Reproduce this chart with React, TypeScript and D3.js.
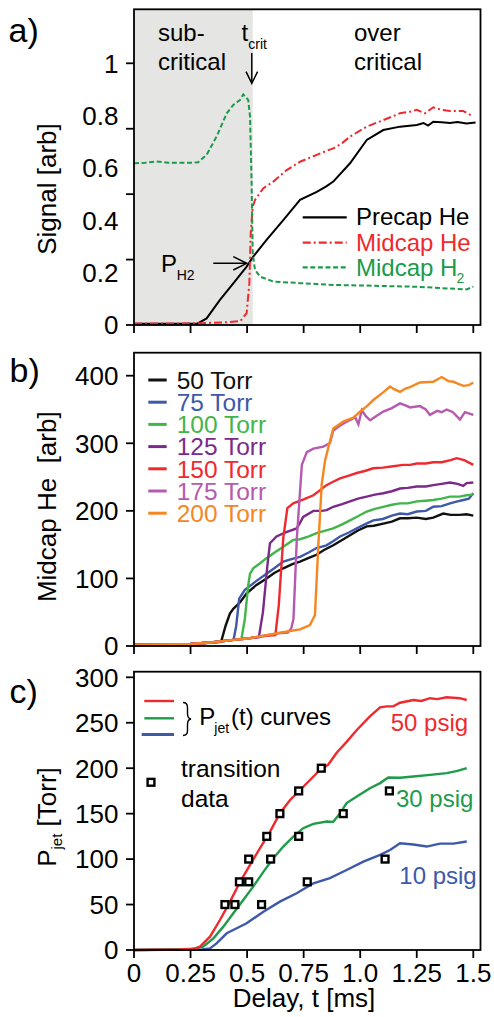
import React from "react";
import * as d3 from "d3";

const FONT = "'Liberation Sans', Arial, Helvetica, sans-serif";

// ---------- Panel a data (t [ms], signal [arb]) ----------
const precapHe: [number, number][] = [
  [0, 0.005], [0.28, 0.005], [0.321, 0.025], [0.38, 0.096], [0.439, 0.159], [0.498, 0.223],
  [0.527, 0.261], [0.586, 0.325], [0.66, 0.401], [0.734, 0.478], [0.808, 0.509], [0.85, 0.53],
  [0.881, 0.548], [0.955, 0.618], [1.029, 0.707], [1.102, 0.745], [1.176, 0.758], [1.25, 0.764],
  [1.28, 0.772], [1.3, 0.762], [1.323, 0.777], [1.36, 0.775], [1.397, 0.772], [1.43, 0.776],
  [1.47, 0.77], [1.51, 0.774],
];
const midcapHe: [number, number][] = [
  [0, 0.006], [0.2, 0.006], [0.3, 0.007], [0.4, 0.01], [0.47, 0.015], [0.498, 0.045], [0.51, 0.16],
  [0.516, 0.35], [0.525, 0.452], [0.535, 0.478], [0.571, 0.522], [0.616, 0.548], [0.675, 0.592],
  [0.734, 0.624], [0.808, 0.65], [0.85, 0.665], [0.881, 0.675], [0.92, 0.695], [0.955, 0.72],
  [1.029, 0.758], [1.102, 0.783], [1.176, 0.809], [1.22, 0.815], [1.25, 0.822], [1.286, 0.809],
  [1.323, 0.832], [1.36, 0.822], [1.397, 0.818], [1.455, 0.818], [1.5, 0.796],
];
const midcapH2: [number, number][] = [
  [0, 0.618], [0.05, 0.62], [0.1, 0.625], [0.15, 0.62], [0.2, 0.62], [0.25, 0.62], [0.284, 0.622],
  [0.321, 0.65], [0.365, 0.72], [0.41, 0.809], [0.439, 0.841], [0.469, 0.86], [0.483, 0.881],
  [0.505, 0.86], [0.513, 0.796], [0.52, 0.541], [0.525, 0.274], [0.535, 0.21], [0.557, 0.185],
  [0.616, 0.166], [0.734, 0.16], [0.881, 0.153], [1.058, 0.15], [1.25, 0.146], [1.47, 0.136], [1.5, 0.146],
];
const aYLabelValues = [0, 0.2, 0.4, 0.6, 0.8, 1];
const aYLabelText = ["0", "0.2", "0.4", "0.6", "0.8", "1"];
const aYTickValues = [0, 0.25, 0.5, 0.75, 1];
const tCrit = 0.525;

// ---------- Panel b data (t [ms], Midcap He [arb]) ----------
const torrLabels = ["50 Torr", "75 Torr", "100 Torr", "125 Torr", "150 Torr", "175 Torr", "200 Torr"];
const torrColors = ["#111111", "#3d59a7", "#42b54b", "#7b2a89", "#ee2a2e", "#b55aae", "#f6861f"];
const torr50: [number, number][] = [
  [0, 1.5], [0.15, 2], [0.25, 3], [0.3, 4], [0.35, 5], [0.385, 6], [0.405, 30], [0.424, 48], [0.439, 55],
  [0.47, 65], [0.498, 78], [0.54, 90], [0.586, 100], [0.62, 108], [0.66, 115], [0.7, 121], [0.734, 125],
  [0.77, 130], [0.807, 135], [0.84, 142], [0.881, 149], [0.92, 157], [0.955, 164], [0.99, 171],
  [1.029, 177], [1.06, 178], [1.102, 181], [1.14, 184], [1.176, 189], [1.21, 189], [1.25, 190],
  [1.29, 188], [1.323, 190], [1.367, 196], [1.4, 194], [1.44, 194], [1.47, 195], [1.5, 193],
];
const torr75: [number, number][] = [
  [0, 1.5], [0.25, 3], [0.35, 5.5], [0.44, 9], [0.452, 30], [0.465, 70], [0.49, 83], [0.54, 96],
  [0.586, 107], [0.62, 115], [0.66, 125], [0.7, 129], [0.734, 132], [0.77, 138], [0.807, 145],
  [0.851, 149], [0.88, 155], [0.911, 162], [0.95, 168], [0.985, 174], [1.02, 180], [1.058, 186],
  [1.1, 188], [1.14, 193], [1.176, 196], [1.21, 195], [1.25, 199], [1.29, 200], [1.323, 206],
  [1.36, 207], [1.397, 211], [1.43, 214], [1.456, 216], [1.48, 218], [1.5, 226],
];
const torr100: [number, number][] = [
  [0, 1.5], [0.25, 3], [0.35, 5.5], [0.44, 9], [0.475, 10.5], [0.49, 40], [0.505, 90], [0.513, 107],
  [0.527, 115], [0.556, 122], [0.586, 130], [0.62, 138], [0.66, 147], [0.704, 157], [0.734, 158],
  [0.77, 162], [0.807, 167], [0.85, 171], [0.881, 174], [0.92, 180], [0.955, 186], [0.99, 192],
  [1.029, 199], [1.065, 203], [1.102, 206], [1.14, 209], [1.176, 211], [1.21, 211], [1.25, 214],
  [1.29, 215], [1.323, 216], [1.36, 218], [1.397, 221], [1.44, 221], [1.47, 223], [1.5, 224],
];
const torr125: [number, number][] = [
  [0, 1.5], [0.25, 3], [0.35, 5.5], [0.44, 9], [0.5, 11], [0.552, 13], [0.57, 50], [0.59, 120],
  [0.601, 152], [0.63, 162], [0.67, 168], [0.719, 174], [0.735, 183], [0.748, 191], [0.793, 200],
  [0.83, 200], [0.851, 201], [0.881, 206], [0.92, 210], [0.955, 214], [0.99, 218], [1.029, 221],
  [1.065, 224], [1.102, 226], [1.14, 229], [1.176, 233], [1.21, 234], [1.25, 236], [1.29, 236],
  [1.323, 238], [1.36, 240], [1.397, 242], [1.43, 240], [1.456, 237], [1.47, 241], [1.5, 242],
];
const torr150: [number, number][] = [
  [0, 1.5], [0.25, 3], [0.35, 5.5], [0.44, 9], [0.5, 11], [0.586, 15], [0.625, 16], [0.64, 60],
  [0.66, 160], [0.678, 204], [0.704, 211], [0.75, 217], [0.793, 223], [0.82, 230], [0.851, 238],
  [0.88, 243], [0.911, 248], [0.95, 252], [0.985, 256], [1.02, 259], [1.058, 263], [1.1, 264],
  [1.146, 266], [1.19, 268], [1.22, 268], [1.25, 270], [1.29, 270], [1.323, 272], [1.36, 272],
  [1.4, 275], [1.426, 278], [1.46, 275], [1.5, 268],
];
const torr175: [number, number][] = [
  [0, 1.5], [0.25, 3], [0.35, 5.5], [0.44, 9], [0.5, 11], [0.586, 16], [0.65, 19], [0.68, 20],
  [0.695, 26], [0.705, 40], [0.72, 160], [0.742, 268], [0.764, 287], [0.793, 292], [0.837, 295],
  [0.866, 300], [0.881, 319], [0.91, 326], [0.94, 332], [0.965, 336], [0.977, 339], [0.992, 328],
  [1.007, 349], [1.025, 340], [1.044, 334], [1.07, 340], [1.102, 347], [1.14, 352], [1.176, 359],
  [1.2, 356], [1.22, 353], [1.264, 355], [1.29, 350], [1.308, 342], [1.34, 348], [1.36, 346],
  [1.382, 350], [1.41, 346], [1.441, 335], [1.463, 346], [1.5, 342],
];
const torr200: [number, number][] = [
  [0, 1.5], [0.25, 3], [0.35, 5.5], [0.44, 9], [0.5, 11], [0.586, 16], [0.65, 20], [0.734, 24.6],
  [0.778, 31], [0.8, 46], [0.815, 150], [0.83, 240], [0.845, 275], [0.86, 295], [0.881, 322],
  [0.925, 332], [0.97, 338], [1.0, 347], [1.03, 355], [1.058, 364], [1.1, 375], [1.132, 384],
  [1.15, 380], [1.176, 376], [1.2, 381], [1.22, 383], [1.264, 390], [1.323, 391], [1.36, 398],
  [1.39, 392], [1.412, 391], [1.44, 387], [1.456, 385], [1.48, 386], [1.5, 390],
];
const torrSeries = [torr50, torr75, torr100, torr125, torr150, torr175, torr200];
const bYTickValues = [0, 100, 200, 300, 400];

// ---------- Panel c data (t [ms], P_jet [Torr]) ----------
const psig50: [number, number][] = [
  [0, 0], [0.2, 0.5], [0.27, 1.5], [0.292, 3.7], [0.336, 14.7], [0.38, 33], [0.424, 53], [0.469, 75],
  [0.513, 93.6], [0.557, 112], [0.601, 130], [0.645, 150.5], [0.69, 165], [0.734, 176], [0.778, 187],
  [0.822, 198], [0.859, 204], [0.896, 217], [0.94, 229], [0.985, 242], [1.043, 257], [1.088, 267],
  [1.117, 268], [1.146, 268], [1.176, 272], [1.235, 275], [1.27, 274], [1.309, 277], [1.34, 276],
  [1.382, 278], [1.44, 277], [1.471, 275],
];
const psig30: [number, number][] = [
  [0, 0], [0.25, 0.8], [0.306, 3.7], [0.351, 12.8], [0.395, 25.7], [0.439, 40.4], [0.483, 55],
  [0.527, 69.7], [0.572, 86], [0.616, 101], [0.66, 113.8], [0.704, 124.8], [0.748, 134], [0.793, 138.8],
  [0.852, 141.3], [0.881, 141], [0.911, 150.5], [0.94, 161.6], [0.985, 168.8], [1.043, 178],
  [1.088, 183.6], [1.124, 189.8], [1.176, 189.5], [1.235, 190.9], [1.309, 192.7], [1.382, 194.6],
  [1.43, 197], [1.471, 200],
];
const psig10: [number, number][] = [
  [0, 0], [0.3, 0.5], [0.336, 1.8], [0.365, 7.3], [0.41, 18.4], [0.454, 23.9], [0.498, 29.4],
  [0.572, 42.2], [0.645, 53.2], [0.719, 62.4], [0.793, 73.4], [0.866, 79], [0.94, 88], [1.014, 97.2],
  [1.088, 104.6], [1.132, 110], [1.176, 117.5], [1.235, 116], [1.294, 113.8], [1.353, 117],
  [1.412, 117], [1.471, 119.3],
];
const transitionT = [0.402, 0.446, 0.564, 0.466, 0.507, 0.766, 0.507, 0.604, 1.11, 0.587, 0.728, 0.645, 0.925, 0.728, 1.129, 0.828];
const transitionP = [50, 50, 50, 75, 75, 75, 100, 100, 100, 125, 125, 150, 150, 175, 175, 200];
const cYTickValues = [0, 50, 100, 150, 200, 250, 300];
const xTickValues = [0, 0.25, 0.5, 0.75, 1, 1.25, 1.5];
const xTickLabels = ["0", "0.25", "0.5", "0.75", "1.0", "1.25", "1.5"];

const RED = "#ee2a2e";
const GREEN_A = "#1b9a4a";
const GREEN_C = "#1f9b4b";
const BLUE_C = "#3d59a7";

export default function App() {
  const W = 494, H = 1017;
  const left = 134, right = 480.5;
  const x = d3.scaleLinear().domain([0, 1.5]).range([134, 473.3]);

  // panel a
  const aTop = 9.3, aBot = 325;
  const yA = d3.scaleLinear().domain([0, 1]).range([aBot, 63.3]);
  // panel b
  const bTop = 352.7, bBot = 646;
  const yB = d3.scaleLinear().domain([0, 400]).range([bBot, 375.7]);
  // panel c
  const cTop = 671.7, cBot = 950;
  const yC = d3.scaleLinear().domain([0, 300]).range([cBot, 677.3]);

  const lineA = d3.line<[number, number]>().x(d => x(d[0])).y(d => yA(d[1]));
  const lineB = d3.line<[number, number]>().x(d => x(d[0])).y(d => yB(d[1]));
  const lineC = d3.line<[number, number]>().x(d => x(d[0])).y(d => yC(d[1]));

  const tickFont = 26;
  const frame = (top: number, bot: number) => (
    <rect x={left} y={top} width={right - left} height={bot - top} fill="none" stroke="#000" strokeWidth={1.8} />
  );
  const xTicks = (bot: number) =>
    xTickValues.map((v, i) => (
      <line key={"xt" + i} x1={x(v)} x2={x(v)} y1={bot} y2={bot + 8} stroke="#000" strokeWidth={1.8} />
    ));
  const yTicks = (vals: number[], s: (v: number) => number, keyp: string) =>
    vals.map((v, i) => (
      <line key={keyp + i} x1={left - 8} x2={left} y1={s(v)} y2={s(v)} stroke="#000" strokeWidth={1.8} />
    ));
  const yLabels = (vals: number[], texts: string[], s: (v: number) => number, keyp: string) =>
    vals.map((v, i) => (
      <text key={keyp + i} x={118.5} y={s(v) + 9.3} textAnchor="end" fontSize={tickFont}>
        {texts[i]}
      </text>
    ));

  const sq = 6.8;

  return (
    <svg width={W} height={H} style={{ position: "absolute", left: 0, top: 0, background: "#fff" }} fontFamily={FONT}>
      <rect x={0} y={0} width={W} height={H} fill="#fff" />

      {/* ================= Panel a ================= */}
      <rect x={left} y={aTop} width={x(tCrit) - left} height={aBot - aTop} fill="#e5e5e3" />
      <path d={lineA(precapHe) || ""} fill="none" stroke="#000" strokeWidth={2} />
      <path d={lineA(midcapHe) || ""} fill="none" stroke={RED} strokeWidth={2} strokeDasharray="8,3,2,3" />
      <path d={lineA(midcapH2) || ""} fill="none" stroke={GREEN_A} strokeWidth={2} strokeDasharray="5,2.6" />
      {frame(aTop, aBot)}
      {xTicks(aBot)}
      {yTicks(aYTickValues, yA, "ayt")}
      {yLabels(aYLabelValues, aYLabelText, yA, "ayl")}
      <text transform={`translate(56,189) rotate(-90)`} textAnchor="middle" fontSize={26}>Signal [arb]</text>
      <text x={8.5} y={41.5} fontSize={34}>a)</text>

      <text x={158} y={40.7} fontSize={24}>sub-</text>
      <text x={158} y={70} fontSize={24}>critical</text>
      <text x={354} y={40.7} fontSize={24}>over</text>
      <text x={354} y={70} fontSize={24}>critical</text>
      <text x={241.5} y={40.7} fontSize={24}>t</text>
      <text x={248.3} y={49} fontSize={14}>crit</text>
      <line x1={251.8} x2={251.8} y1={53} y2={83.3} stroke="#000" strokeWidth={1.5} />
      <polyline points="246,71.7 251.8,83.3 257.6,71.7" fill="none" stroke="#000" strokeWidth={1.5} />

      <text x={161} y={271.7} fontSize={24}>P</text>
      <text x={176.7} y={280} fontSize={14}>H2</text>
      <line x1={213.3} x2={246.7} y1={263.3} y2={263.3} stroke="#000" strokeWidth={1.5} />
      <polyline points="233.3,256.7 246.7,263.3 233.3,270" fill="none" stroke="#000" strokeWidth={1.5} />

      <line x1={302.7} x2={346.7} y1={217.3} y2={217.3} stroke="#000" strokeWidth={2.2} />
      <line x1={302.7} x2={346.7} y1={242.7} y2={242.7} stroke={RED} strokeWidth={2.2} strokeDasharray="8,3,2,3" />
      <line x1={302.7} x2={346.7} y1={267.3} y2={267.3} stroke={GREEN_A} strokeWidth={2.2} strokeDasharray="5,2.6" />
      <text x={356} y={225.2} fontSize={24}>Precap He</text>
      <text x={356} y={250.6} fontSize={24} fill={RED}>Midcap He</text>
      <text x={356} y={275.8} fontSize={24} fill={GREEN_A}>Midcap H</text>
      <text x={456.5} y={283.3} fontSize={14} fill={GREEN_A}>2</text>

      {/* ================= Panel b ================= */}
      {torrSeries.map((s, i) => (
        <path key={"b" + i} d={lineB(s) || ""} fill="none" stroke={torrColors[i]} strokeWidth={2.4} />
      ))}
      {frame(bTop, bBot)}
      {xTicks(bBot)}
      {yTicks(bYTickValues, yB, "byt")}
      {yLabels(bYTickValues, bYTickValues.map(String), yB, "byl")}
      <text transform={`translate(56,506.7) rotate(-90)`} textAnchor="middle" fontSize={26} style={{ whiteSpace: "pre" }}>
        {"Midcap He  [arb]"}
      </text>
      <text x={9.5} y={382} fontSize={34}>b)</text>
      {torrLabels.map((lab, i) => {
        const yy = 380 + i * 22.2;
        return (
          <g key={"bl" + i}>
            <line x1={148.3} x2={166.7} y1={yy} y2={yy} stroke={torrColors[i]} strokeWidth={3} />
            <text x={176.7} y={yy + 8.8} fontSize={24.5} fill={torrColors[i]}>{lab}</text>
          </g>
        );
      })}

      {/* ================= Panel c ================= */}
      <path d={lineC(psig10) || ""} fill="none" stroke={BLUE_C} strokeWidth={2.4} />
      <path d={lineC(psig30) || ""} fill="none" stroke={GREEN_C} strokeWidth={2.4} />
      <path d={lineC(psig50) || ""} fill="none" stroke={RED} strokeWidth={2.4} />
      {transitionT.map((t, i) => (
        <rect key={"sq" + i} x={x(t) - sq / 2} y={yC(transitionP[i]) - sq / 2} width={sq} height={sq}
          fill="#fff" stroke="#000" strokeWidth={2.4} />
      ))}
      {frame(cTop, cBot)}
      {xTicks(cBot)}
      {yTicks(cYTickValues, yC, "cyt")}
      {yLabels(cYTickValues, cYTickValues.map(String), yC, "cyl")}
      {xTickValues.map((v, i) => (
        <text key={"xl" + i} x={x(v)} y={981.7} textAnchor="middle" fontSize={tickFont}>{xTickLabels[i]}</text>
      ))}
      <text x={304} y={1007} textAnchor="middle" fontSize={26}>Delay, t [ms]</text>
      <text transform={`translate(56,817) rotate(-90)`} textAnchor="middle" fontSize={26}>
        P<tspan fontSize={15} dy={6}>jet</tspan><tspan dy={-6}> [Torr]</tspan>
      </text>
      <text x={9.5} y={703} fontSize={34}>c)</text>

      <line x1={144.3} x2={174} y1={701} y2={701} stroke={RED} strokeWidth={2.4} />
      <line x1={144.3} x2={174} y1={718.3} y2={718.3} stroke={GREEN_C} strokeWidth={2.4} />
      <line x1={141.7} x2={174} y1={734.5} y2={734.5} stroke={BLUE_C} strokeWidth={3} />
      <path d="M183,702.5 q4.5,0 4.5,5 v6 q0,5 3.5,5.5 q-3.5,0.5 -3.5,5.5 v6 q0,5 -4.5,5" fill="none" stroke="#000" strokeWidth={1.4} />
      <text x={199.3} y={725} fontSize={24}>P</text>
      <text x={214.3} y={733.3} fontSize={14}>jet</text>
      <text x={231} y={725} fontSize={24}>(t) curves</text>
      <rect x={151 - sq / 2} y={782.3 - sq / 2} width={sq} height={sq} fill="#fff" stroke="#000" strokeWidth={2.4} />
      <text x={181} y={777.3} fontSize={24.5}>transition</text>
      <text x={181} y={806.7} fontSize={24.5}>data</text>
      <text x={390.7} y={730.7} fontSize={24} fill={RED}>50 psig</text>
      <text x={396} y={806.7} fontSize={24} fill={GREEN_C}>30 psig</text>
      <text x={399.3} y={884} fontSize={24} fill={BLUE_C}>10 psig</text>
    </svg>
  );
}
